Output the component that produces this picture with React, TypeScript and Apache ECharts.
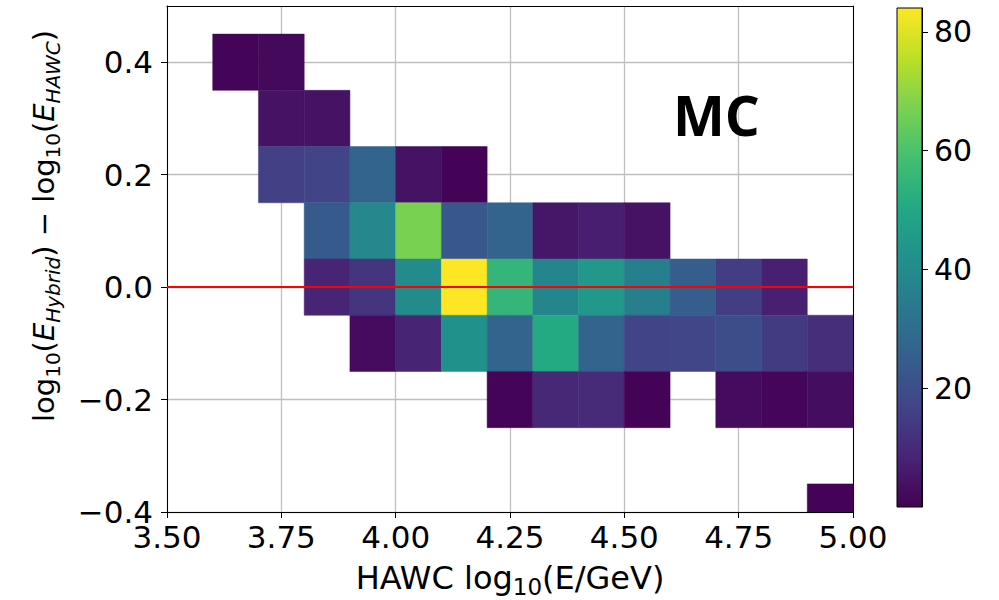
import React, { useEffect, useRef } from 'react';
import * as echarts from 'echarts';

// ---------- data ----------
const xMin = 3.5;
const xMax = 5.0;
const yMin = -0.4;
const yMax = 0.5;
const xTicks = [3.5, 3.75, 4.0, 4.25, 4.5, 4.75, 5.0];
const yTicks = [-0.4, -0.2, 0.0, 0.2, 0.4];
const cbTicks = [20, 40, 60, 80];
const cbMin = 0;
const cbMax = 84;
const refLineY = 0;

const xBinLeft = [3.6, 3.7, 3.8, 3.9, 4.0, 4.1, 4.2, 4.3, 4.4, 4.5, 4.6, 4.7, 4.8, 4.9];
const xBinWidth = 0.1;
const yBinRanges = [
  [0.35, 0.45],
  [0.25, 0.35],
  [0.15, 0.25],
  [0.05, 0.15],
  [-0.05, 0.05],
  [-0.15, -0.05],
  [-0.25, -0.15],
  [-0.45, -0.35],
];
const N = null;
const counts: (number | null)[][] = [
  [0.8, 1.8, N, N, N, N, N, N, N, N, N, N, N, N],
  [N, 4, 4, N, N, N, N, N, N, N, N, N, N, N],
  [N, 16, 17, 27, 4, 0.5, N, N, N, N, N, N, N, N],
  [N, N, 23.5, 39, 67, 23, 27, 5, 7, 4, N, N, N, N],
  [N, N, 8.5, 12.5, 40, 84, 55, 38, 44.5, 36, 25, 15, 7.5, N],
  [N, N, N, 2.5, 8.5, 42, 27, 51, 27, 17, 17.5, 20, 14.5, 11],
  [N, N, N, N, N, N, 1, 9.5, 10, 0.5, N, 2.5, 1.2, 3],
  [N, N, N, N, N, N, N, N, N, N, N, N, N, 0.5],
];

const viridis = [
  '#440154', '#482475', '#414487', '#355f8d', '#2a788e', '#21918c',
  '#22a884', '#44bf70', '#7ad151', '#bddf26', '#fde725',
];

const FONT = 'DejaVu Sans';

function buildCells() {
  const out: number[][] = [];
  counts.forEach((row, r) => {
    row.forEach((v, c) => {
      if (v === null) return;
      const x0 = xBinLeft[c];
      out.push([x0, x0 + xBinWidth, yBinRanges[r][0], yBinRanges[r][1], v]);
    });
  });
  return out;
}

const fmtY = (v: number) => {
  const s = Math.abs(v).toFixed(1);
  return v < -1e-9 ? '\u2212' + s : s;
};

export default function App() {
  const ref = useRef<HTMLDivElement>(null);
  useEffect(() => {
    document.body.style.margin = '0';
    if (!ref.current) return;
    const chart = echarts.init(ref.current, undefined, { renderer: 'svg' });
    const cells = buildCells();
    const tickFont = { fontFamily: FONT, fontSize: 31, color: '#000' };
    const option: any = {
      animation: false,
      backgroundColor: '#fff',
      grid: [
        { left: 167, top: 6, width: 686, height: 506 },
        { left: 897, top: 8, width: 25, height: 499 },
      ],
      xAxis: [
        {
          type: 'value', gridIndex: 0, position: 'bottom', min: xMin, max: xMax, interval: 0.25, z: 10,
          axisLine: { show: true, onZero: false, lineStyle: { color: '#000', width: 1 } },
          axisTick: { show: true, inside: false, length: 6, lineStyle: { color: '#000' }, customValues: xTicks },
          axisLabel: { ...tickFont, margin: 9, customValues: xTicks, formatter: (v: number) => v.toFixed(2) },
          splitLine: { show: false },
        },
        {
          type: 'value', gridIndex: 0, position: 'top', min: xMin, max: xMax, interval: 0.25,
          axisLine: { show: true, onZero: false, lineStyle: { color: '#000', width: 1 } },
          axisTick: { show: false },
          axisLabel: { show: false },
          splitLine: { show: true, lineStyle: { color: '#bfbfbf', width: 1.3 } },
        },
        {
          type: 'value', gridIndex: 1, min: 0, max: 1, show: false,
        },
      ],
      yAxis: [
        {
          type: 'value', gridIndex: 0, position: 'left', min: yMin, max: yMax, interval: 0.2,
          axisLine: { show: true, onZero: false, lineStyle: { color: '#000', width: 1 } },
          axisTick: { show: true, inside: false, length: 6, lineStyle: { color: '#000' }, customValues: yTicks },
          axisLabel: {
            ...tickFont, margin: 14, customValues: yTicks,
            formatter: (v: number) => (v > 0.45 ? '' : fmtY(v)),
          },
          splitLine: { show: true, lineStyle: { color: '#bfbfbf', width: 1.3 } },
        },
        {
          type: 'value', gridIndex: 0, position: 'right', min: yMin, max: yMax, interval: 0.2, z: 10,
          axisLine: { show: true, onZero: false, lineStyle: { color: '#000', width: 1 } },
          axisTick: { show: false },
          axisLabel: { show: false },
          splitLine: { show: false },
        },
        {
          type: 'value', gridIndex: 1, position: 'right', min: cbMin, max: cbMax, interval: 20, z: 10,
          axisLine: { show: true, onZero: false, lineStyle: { color: '#000', width: 1 } },
          axisTick: { show: true, inside: false, length: 6, lineStyle: { color: '#000' }, customValues: cbTicks },
          axisLabel: {
            ...tickFont, fontSize: 30, margin: 12, customValues: cbTicks,
            formatter: (v: number) => (cbTicks.indexOf(Math.round(v)) >= 0 ? String(Math.round(v)) : ''),
          },
          splitLine: { show: false },
        },
      ],
      visualMap: {
        type: 'continuous', show: false, min: cbMin, max: cbMax, seriesIndex: 0, dimension: 4,
        inRange: { color: viridis },
      },
      series: [
        {
          type: 'custom',
          xAxisIndex: 0, yAxisIndex: 0,
          encode: { x: [0, 1], y: [2, 3] },
          data: cells,
          silent: true,
          renderItem: (params: any, api: any) => {
            const pA = api.coord([api.value(0), api.value(3)]);
            const pB = api.coord([api.value(1), api.value(2)]);
            const cs = params.coordSys;
            const rect = echarts.graphic.clipRectByRect(
              { x: pA[0], y: pA[1], width: pB[0] - pA[0], height: pB[1] - pA[1] },
              { x: cs.x, y: cs.y, width: cs.width, height: cs.height }
            );
            if (!rect) return null;
            const col = api.visual('color');
            return { type: 'rect', shape: rect, style: { fill: col, stroke: col, lineWidth: 0.5 } };
          },
        },
        {
          type: 'line',
          xAxisIndex: 0, yAxisIndex: 0,
          data: [[xMin, refLineY], [xMax, refLineY]],
          symbol: 'none', silent: true, z: 5,
          lineStyle: { color: '#ff0000', width: 2 },
        },
        {
          type: 'custom',
          xAxisIndex: 2, yAxisIndex: 2,
          data: [[cbMin, cbMax]],
          silent: true,
          renderItem: (params: any, api: any) => {
            const pTop = api.coord([0, api.value(1)]);
            const pBot = api.coord([0, api.value(0)]);
            const cs = params.coordSys;
            return {
              type: 'rect',
              shape: { x: cs.x, y: pTop[1], width: cs.width, height: pBot[1] - pTop[1] },
              style: {
                fill: new echarts.graphic.LinearGradient(0, 1, 0, 0,
                  viridis.map((c, i) => ({ offset: i / (viridis.length - 1), color: c }))),
                stroke: '#000', lineWidth: 1,
              },
            };
          },
        },
      ],
      graphic: [
        {
          type: 'text', x: 673, y: 114, z: 100,
          style: {
            text: 'MC', fill: '#000', fontFamily: 'Open Sans', fontWeight: 'bold', fontSize: 55,
            align: 'left', verticalAlign: 'middle',
          },
        },
        {
          type: 'text', x: 510, y: 578, z: 100,
          style: {
            text: '{n|HAWC log}{s|10}{n|(E/GeV)}',
            align: 'center', verticalAlign: 'middle',
            rich: {
              n: { fontFamily: FONT, fontSize: 32, lineHeight: 40, fill: '#000' },
              s: { fontFamily: FONT, fontSize: 23, lineHeight: 23, verticalAlign: 'bottom', fill: '#000' },
            },
          },
        },
        {
          type: 'text', x: 44, y: 226, z: 100, rotation: Math.PI / 2,
          style: {
            text: '{n|log}{s|10}{n|(}{i|E}{si|Hybrid}{n|) \u2212 log}{s|10}{n|(}{i|E}{si|HAWC}{n|)}',
            align: 'center', verticalAlign: 'middle',
            rich: {
              n: { fontFamily: FONT, fontSize: 29, lineHeight: 38, fill: '#000' },
              i: { fontFamily: FONT, fontSize: 29, lineHeight: 38, fontStyle: 'italic', fill: '#000' },
              s: { fontFamily: FONT, fontSize: 20, lineHeight: 20, verticalAlign: 'bottom', fill: '#000' },
              si: { fontFamily: FONT, fontSize: 20, lineHeight: 20, verticalAlign: 'bottom', fontStyle: 'italic', fill: '#000' },
            },
          },
        },
      ],
    };
    chart.setOption(option);
    return () => chart.dispose();
  }, []);
  return (
    <div
      ref={ref}
      style={{ position: 'absolute', left: 0, top: 0, width: 999, height: 600 }}
    />
  );
}
